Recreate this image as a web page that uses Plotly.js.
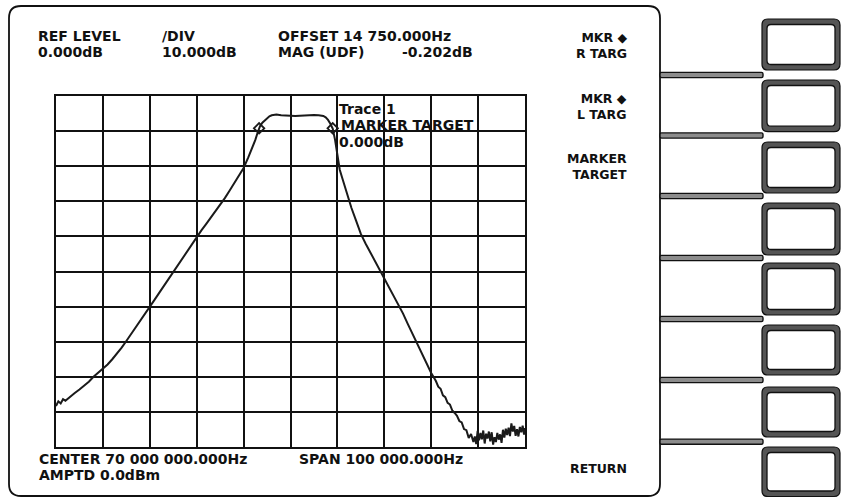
<!DOCTYPE html>
<html>
<head>
<meta charset="utf-8">
<script src="https://cdn.plot.ly/plotly-3.0.1.min.js"></script>
<style>html,body{margin:0;padding:0;background:#fff;}#chart{width:843px;height:498px;}</style>
</head>
<body>
<div id="chart"></div>
<script>
// ---- data (frequency offset from 70 MHz centre, kHz ; magnitude, dB) ----
const offsetKHz = [-50,-49.5,-49,-48.5,-48,-47,-46,-45,-44,-43,-42,-41,-40,-39,-38,-37,-36,-35,-34,-33,-32,-31,-30,-29,-28,-27,-26,-25,-24,-23,-22,-21,-20,-19,-18,-17,-16,-15,-14,-13,-12,-11,-10,-9,-8,-7.5,-7,-6.5,-6,-5.5,-5,-4.5,-4,-3.5,-3,-2,-1,0,1,2,3,4,5,6,7,7.5,8,8.5,9,9.5,10,10.5,11,12,13,14,15,16,17,18,19,20,21,22,23,24,25,26,27,28,29,30,31,31.5,32,32.5,33,33.5,34,34.5,35,35.5,36,36.5,37,37.5,38,38.5,39,39.3,39.6,39.9,40.2,40.5,40.8,41.1,41.4,41.7,42,42.3,42.6,42.9,43.2,43.5,43.8,44.1,44.4,44.7,45,45.3,45.6,45.9,46.2,46.5,46.8,47.1,47.4,47.7,48,48.3,48.6,48.9,49.2,49.5,49.8,50];
const magDB = [-88.3,-87.0,-87.6,-86.4,-86.8,-85.6,-84.6,-83.6,-82.5,-81.4,-80.0,-78.9,-77.8,-76.5,-75.0,-73.5,-71.7,-69.8,-67.9,-66.0,-64.1,-62.1,-60.1,-58.1,-56.1,-54.1,-52.0,-50.0,-48.0,-46.0,-44.0,-42.0,-40.0,-38.3,-36.5,-34.7,-32.9,-31.1,-29.1,-27.0,-24.8,-22.6,-20.5,-17.5,-14.3,-12.5,-10.4,-8.6,-7.6,-7.0,-6.3,-5.8,-5.5,-5.3,-5.3,-5.5,-5.6,-5.7,-5.7,-5.6,-5.5,-5.4,-5.4,-5.5,-5.7,-6.1,-6.8,-7.9,-9.3,-12.5,-17.5,-21.0,-23.2,-27.7,-31.9,-35.6,-39.3,-42.0,-44.5,-47.0,-49.5,-52.0,-54.4,-56.8,-59.3,-62.0,-64.9,-67.7,-70.6,-73.3,-76.1,-78.9,-81.2,-82.8,-83.4,-85.3,-85.8,-87.4,-87.9,-89.6,-90.3,-91.1,-92.6,-93.0,-94.9,-95.2,-97.4,-96.3,-98.6,-97.0,-99.2,-95.4,-98.1,-96.0,-97.8,-95.3,-99.0,-96.2,-97.6,-95.6,-98.4,-95.8,-99.3,-97.2,-98.6,-96.0,-97.9,-96.4,-98.8,-95.1,-97.3,-94.8,-96.6,-94.5,-96.9,-93.3,-95.6,-94.0,-96.8,-94.9,-97.0,-94.3,-95.8,-93.9,-96.5,-94.6];
const markerKHz = [-6.7, 9.0];
const markerDB  = [-9.2, -9.2];

const headerLine1 = ["REF LEVEL", "/DIV", "OFFSET 14 750.000Hz"];
const headerLine2 = ["0.000dB", "10.000dB", "MAG (UDF)", "-0.202dB"];
const footerLine1 = ["CENTER 70 000 000.000Hz", "SPAN 100 000.000Hz"];
const footerLine2 = ["AMPTD 0.0dBm"];
const traceInfo   = ["Trace 1", "MARKER TARGET", "0.000dB"];
const softKeys    = ["MKR ◆<br>R TARG", "MKR ◆<br>L TARG", "MARKER<br>TARGET", "", "", "", "", "RETURN"];

// ---- layout helpers (pixel -> paper) ----
const L = 56, R = 525, T = 96, B = 447;
const W = R - L, H = B - T;
const px = x => (x - L) / W;
const py = y => (B - y) / H;

function rrect(x0, y0, x1, y1, r) {
  const P = (x, y) => px(x).toFixed(5) + ',' + py(y).toFixed(5);
  return 'M' + P(x0 + r, y0) + ' L' + P(x1 - r, y0) + ' Q' + P(x1, y0) + ' ' + P(x1, y0 + r) +
         ' L' + P(x1, y1 - r) + ' Q' + P(x1, y1) + ' ' + P(x1 - r, y1) +
         ' L' + P(x0 + r, y1) + ' Q' + P(x0, y1) + ' ' + P(x0, y1 - r) +
         ' L' + P(x0, y0 + r) + ' Q' + P(x0, y0) + ' ' + P(x0 + r, y0) + ' Z';
}

const shapes = [];
// screen bezel
shapes.push({type:'path', xref:'paper', yref:'paper', path: rrect(9, 6, 660, 496, 12),
             line:{color:'#111', width:1.8}});
// connector bars
const connY = [75, 135.5, 196, 258, 319, 380, 441.7];
connY.forEach(c => {
  shapes.push({type:'path', xref:'paper', yref:'paper', path: rrect(660, c - 2.6, 763, c + 2.6, 1.5),
               line:{color:'#111', width:1.4}, fillcolor:'#8c8c8c'});
});
// soft-key buttons
const btnTop = [19, 80, 142, 203, 263, 325, 387, 447];
const btnBot = [70, 131.7, 193, 255, 315, 375, 437, 496.5];
btnTop.forEach((t, i) => {
  const b = btnBot[i];
  shapes.push({type:'path', xref:'paper', yref:'paper', path: rrect(762, t, 840, b, 6),
               line:{color:'#111', width:1.2}, fillcolor:'#555555'});
  shapes.push({type:'path', xref:'paper', yref:'paper', path: rrect(767, t + 5.5, 835, b - 5.5, 4),
               line:{color:'#111', width:1.3}, fillcolor:'#ffffff'});
});

const fontMain = {family:'DejaVu Sans', size:14, color:'#111', weight:'bold'};
const fontKey  = {family:'DejaVu Sans', size:12.5, color:'#111', weight:'bold'};
const ann = [];
function txt(s, x, y, font, anchor) {
  ann.push({text:s, xref:'paper', yref:'paper', x:px(x), y:py(y), xanchor:anchor || 'left',
            yanchor:'middle', showarrow:false, font:font, borderpad:0, align:anchor === 'right' ? 'right' : 'left'});
}
txt(headerLine1[0], 37, 35.5, fontMain);
txt(headerLine1[1], 161, 35.5, fontMain);
txt(headerLine1[2], 277, 35.5, fontMain);
txt(headerLine2[0], 37, 52, fontMain);
txt(headerLine2[1], 161, 52, fontMain);
txt(headerLine2[2], 277, 52, fontMain);
txt(headerLine2[3], 474, 52, fontMain, 'right');
txt(footerLine1[0], 38, 458.5, fontMain);
txt(footerLine1[1], 298, 458.5, fontMain);
txt(footerLine2[0], 38, 475, fontMain);
txt(traceInfo[0], 338, 108.5, fontMain);
txt(traceInfo[1], 340, 125.2, fontMain);
txt(traceInfo[2], 338, 141.8, fontMain);
const keyY = [45, 106.5, 166.5, 0, 0, 0, 0, 468];
softKeys.forEach((s, i) => { if (s) txt(s, 628, keyY[i], fontKey, 'right'); });

const traces = [
  {x: offsetKHz, y: magDB, type:'scatter', mode:'lines', line:{color:'#1a1a1a', width:2}, hoverinfo:'skip'},
  {x: markerKHz, y: markerDB, type:'scatter', mode:'markers',
   marker:{symbol:'diamond-open', size:8, color:'#1a1a1a', line:{width:1.8, color:'#1a1a1a'}}, hoverinfo:'skip'}
];

const axisCommon = {showgrid:true, gridcolor:'#111', gridwidth:2, zeroline:false, showticklabels:false,
                    ticks:'', showline:true, linecolor:'#111', linewidth:2, mirror:true, fixedrange:true};
const layout = {
  width:843, height:498, paper_bgcolor:'#fff', plot_bgcolor:'#fff', showlegend:false,
  margin:{l:L, r:843 - R, t:T, b:498 - B, pad:0},
  xaxis: Object.assign({range:[-50, 50], dtick:10, tick0:-50}, axisCommon),
  yaxis: Object.assign({range:[-100, 0], dtick:10, tick0:0}, axisCommon),
  shapes: shapes, annotations: ann
};
Plotly.newPlot('chart', traces, layout, {staticPlot:true, displayModeBar:false});
</script>
</body>
</html>
